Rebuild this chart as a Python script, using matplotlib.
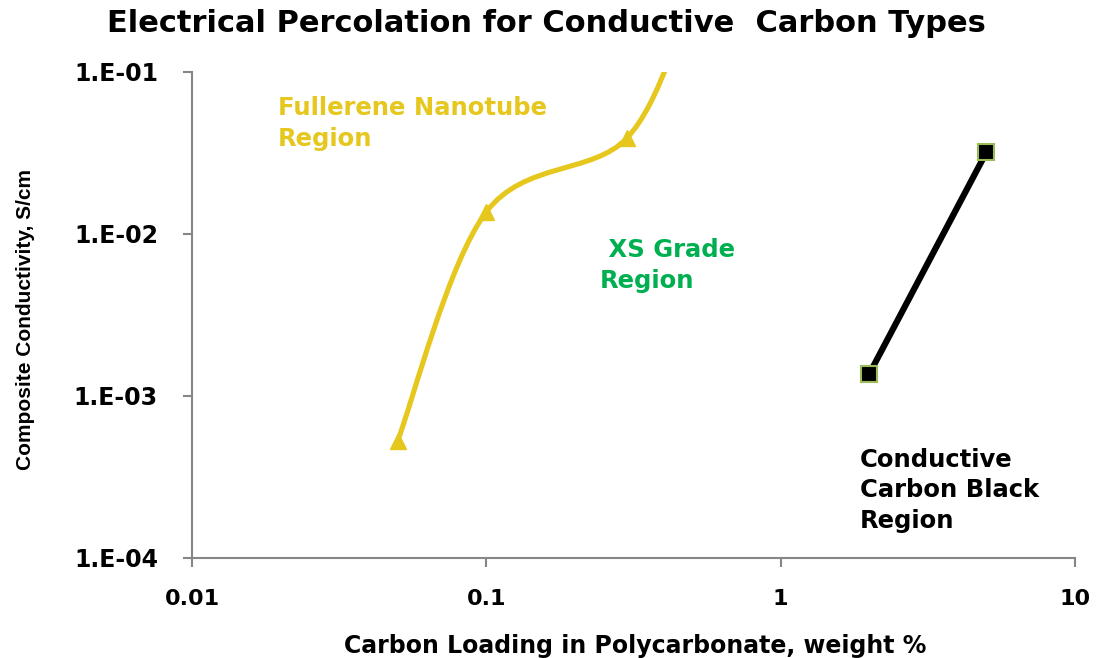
import matplotlib.pyplot as plt
import numpy as np
from matplotlib.path import Path
from matplotlib.patches import PathPatch

# Fullerene nanotube series (last point lies above the plot, clipped)
nano_x = [0.05, 0.1, 0.3, 0.5]
nano_y = [5.3e-4, 1.37e-2, 3.9e-2, 0.3]
# Conductive carbon black series
cb_x = [2, 5]
cb_y = [1.37e-3, 3.2e-2]

x_ticks = [0.01, 0.1, 1, 10]
x_labels = ['0.01', '0.1', '1', '10']
y_ticks = [1e-4, 1e-3, 1e-2, 1e-1]
y_labels = ['1.E-04', '1.E-03', '1.E-02', '1.E-01']

yellow = '#E6C71E'
green = '#00B050'
axis_gray = '#868686'


def smooth_path(xs, ys):
    # Excel-like smoothed line: cubic bezier segments built in log space
    p = np.column_stack([np.log10(xs), np.log10(ys)])
    n = len(p)
    verts = [p[0]]
    codes = [Path.MOVETO]
    for i in range(n - 1):
        p0 = p[i - 1] if i > 0 else p[i]
        p3 = p[i + 2] if i + 2 < n else p[i + 1]
        c1 = p[i] + (p[i + 1] - p0) / 6
        c2 = p[i + 1] - (p3 - p[i]) / 6
        verts += [c1, c2, p[i + 1]]
        codes += [Path.CURVE4] * 3
    verts = 10 ** np.array(verts)
    return Path(verts, codes)


fig = plt.figure(figsize=(10.97, 6.58), dpi=100)
ax = fig.add_axes([0.175, 0.152, 0.805, 0.7386])
ax.set_xscale('log')
ax.set_yscale('log')
ax.set_xlim(0.01, 10)
ax.set_ylim(1e-4, 1e-1)

ax.add_patch(PathPatch(smooth_path(nano_x, nano_y), fill=False,
                       edgecolor=yellow, lw=3.7, capstyle='round', clip_on=True))
ax.plot(nano_x, nano_y, ls='none', marker='^', ms=11, color=yellow)

ax.plot(cb_x, cb_y, color='black', lw=4.5, marker='s', ms=12,
        mfc='black', mec='#9BBB59', mew=1.5)

for s in ['top', 'right']:
    ax.spines[s].set_visible(False)
for s in ['left', 'bottom']:
    ax.spines[s].set_color(axis_gray)
    ax.spines[s].set_linewidth(1.5)

ax.set_xticks(x_ticks)
ax.set_xticklabels(x_labels, fontsize=16, fontweight='bold')
ax.set_yticks(y_ticks)
ax.set_yticklabels(y_labels, fontsize=17, fontweight='bold')
ax.minorticks_off()
ax.tick_params(axis='both', direction='out', length=6.5, width=1.5, color=axis_gray)
ax.tick_params(axis='x', pad=16)
ax.tick_params(axis='y', pad=18)

fig.text(0.498, 0.964, 'Electrical Percolation for Conductive  Carbon Types',
         ha='center', va='center', fontsize=22, fontweight='bold')
fig.text(0.579, 0.018, 'Carbon Loading in Polycarbonate, weight %',
         ha='center', va='center', fontsize=17, fontweight='bold')
fig.text(0.023, 0.514, 'Composite Conductivity, S/cm', rotation=90,
         ha='center', va='center', fontsize=15, fontweight='bold',
         family=['Liberation Sans', 'DejaVu Sans'])

ax.text(0.0196, 0.071, 'Fullerene Nanotube\nRegion', color=yellow,
        fontsize=17.5, fontweight='bold', ha='left', va='top', linespacing=1.35)
ax.text(0.243, 0.0094, ' XS Grade\nRegion', color=green,
        fontsize=17.5, fontweight='bold', ha='left', va='top', linespacing=1.35)
ax.text(1.86, 4.8e-4, 'Conductive\nCarbon Black\nRegion', color='black',
        fontsize=17.5, fontweight='bold', ha='left', va='top', linespacing=1.35)

fig.savefig('out.png', dpi=100)
